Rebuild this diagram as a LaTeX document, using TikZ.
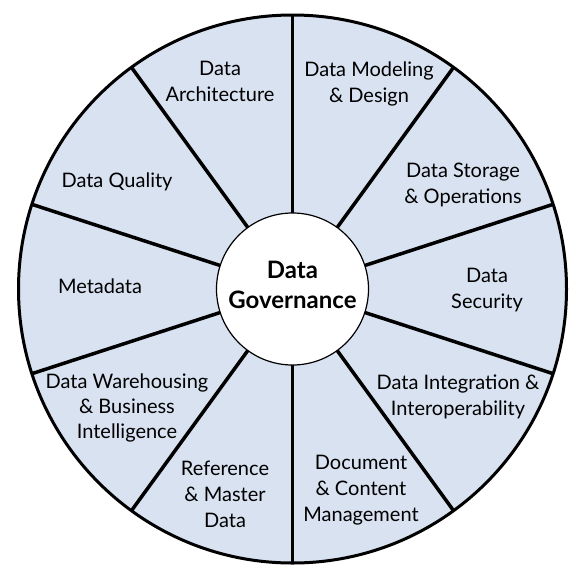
\documentclass[tikz,border=0pt]{standalone}
\usepackage{fontspec}
\setmainfont{Lato}
\usetikzlibrary{calc}
\definecolor{segfill}{RGB}{217,226,241}
\begin{document}
\begin{tikzpicture}[x=1pt,y=-1pt,
  lbl/.style={align=center,inner sep=0pt,font=\fontsize{20}{26}\selectfont},
  core/.style={align=center,inner sep=0pt,font=\bfseries\fontsize{24}{30}\selectfont}]
\useasboundingbox (0,0) rectangle (583,581);
\coordinate (c) at (292.5,289);
\fill[segfill] (c) circle[radius=274];
\foreach \a in {90,126,...,414}{
  \draw[line width=3.5pt] ($(c)+(\a:76)$) -- ($(c)+(\a:274)$);
}
\draw[line width=3pt] (c) circle[radius=274];
\draw[fill=white,line width=1.2pt] (c) circle[radius=76];
\node[core] (gov) at (292.5,285) {Data\\Governance};
\node[lbl] (arch) at (220,81) {Data\\Architecture};
\node[lbl] (model) at (369,84) {Data Modeling\\\& Design};
\node[lbl] (stor) at (463,185) {Data Storage\\\& Operations};
\node[lbl] (sec) at (487,290) {Data\\Security};
\node[lbl] (integ) at (458,397) {Data Integration \&\\Interoperability};
\node[lbl] (doc) at (361,490) {Document\\\& Content\\Management};
\node[lbl] (ref) at (225,494) {Reference\\\& Master\\Data};
\node[lbl,font=\fontsize{20}{25}\selectfont] (dw) at (127,408) {Data Warehousing\\\& Business\\Intelligence};
\node[lbl] (meta) at (100,286) {Metadata};
\node[lbl] (qual) at (117,182) {Data Quality};
\end{tikzpicture}
\end{document}
